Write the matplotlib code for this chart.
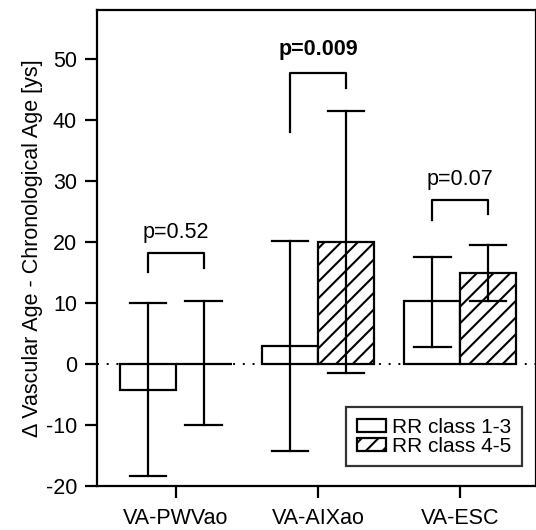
import matplotlib.pyplot as plt
import numpy as np

plt.rcParams['font.family'] = ['Liberation Sans', 'DejaVu Sans']
plt.rcParams['hatch.linewidth'] = 1.5
plt.rcParams['axes.unicode_minus'] = False

# data
groups = ["VA-PWVao", "VA-AIXao", "VA-ESC"]
low_class = [-4.3, 3.0, 10.3]        # RR class 1-3
low_err_up = [10.0, 20.2, 17.6]
low_err_down = [-18.4, -14.3, 2.8]
high_class = [0.0, 20.0, 14.9]       # RR class 4-5
high_err_up = [10.3, 41.5, 19.5]
high_err_down = [-10.0, -1.5, 10.3]
p_labels = ["p=0.52", "p=0.009", "p=0.07"]
p_bold = [False, True, False]
bracket_top = [18.2, 47.7, 26.9]
bracket_left = [15.0, 38.0, 23.6]
bracket_right = [15.8, 45.3, 24.6]
p_text_y = [21.5, 51.5, 30.2]

fig = plt.figure(figsize=(5.36, 5.30), dpi=100)
ax = fig.add_axes([0.181, 0.083, 0.819, 0.898])

x = np.arange(len(groups))
w = 0.394
lw = 1.6
fs = 15.5

ax.axhline(0, color='black', lw=1.4, linestyle=(0, (1, 4)), zorder=1)

ax.bar(x - w / 2, low_class, w, facecolor='white', edgecolor='black', lw=lw, zorder=2,
       label='RR class 1-3')
ax.bar(x + w / 2, high_class, w, facecolor='white', edgecolor='black', lw=lw, hatch='//',
       zorder=2, label='RR class 4-5')

for xs, lo, hi in [(x - w / 2, low_err_down, low_err_up), (x + w / 2, high_err_down, high_err_up)]:
    for xi, l, h in zip(xs, lo, hi):
        ax.plot([xi, xi], [l, h], color='black', lw=lw, zorder=3)
        for yv in (l, h):
            ax.plot([xi - 0.13, xi + 0.13], [yv, yv], color='black', lw=lw, zorder=3)

for i in range(len(groups)):
    xl, xr = x[i] - w / 2, x[i] + w / 2
    ax.plot([xl, xl, xr, xr], [bracket_left[i], bracket_top[i], bracket_top[i], bracket_right[i]],
            color='black', lw=lw, zorder=3)
    ax.text(x[i], p_text_y[i], p_labels[i], ha='center', va='center', fontsize=fs,
            fontweight='bold' if p_bold[i] else 'normal')

ax.set_xlim(-0.556, 2.535)
ax.set_ylim(-20, 58)
ax.set_xticks(x)
ax.set_xticklabels(groups, fontsize=fs)
ax.set_yticks(np.arange(-20, 51, 10))
ax.tick_params(axis='both', direction='out', length=8.5, width=lw, labelsize=fs)
ax.tick_params(axis='x', pad=7)
ax.tick_params(axis='y', pad=6)
for s in ax.spines.values():
    s.set_linewidth(lw)
ax.set_ylabel("Δ Vascular Age - Chronological Age [ys]", fontsize=fs, labelpad=2)

leg = ax.legend(loc='lower right', bbox_to_anchor=(0.968, 0.042), borderaxespad=0,
                fontsize=15, frameon=True, fancybox=False, edgecolor='black',
                handlelength=1.4, handleheight=0.6, handletextpad=0.3,
                labelspacing=0.0, borderpad=0.5)
leg.get_frame().set_linewidth(lw)

fig.savefig("out.png", dpi=100)
